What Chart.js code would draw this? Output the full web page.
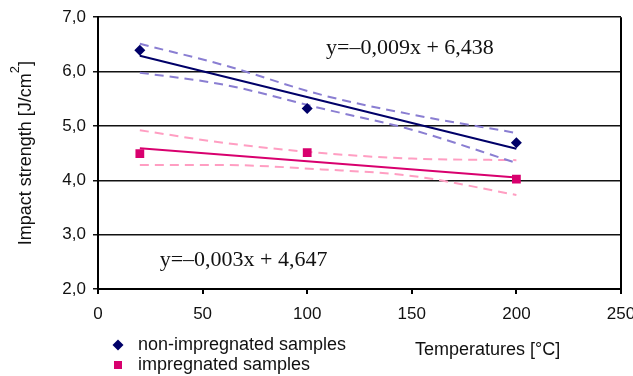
<!DOCTYPE html>
<html>
<head>
<meta charset="utf-8">
<script src="https://cdn.jsdelivr.net/npm/chart.js@4"></script>
<style>
  html, body { margin: 0; padding: 0; background: #fff; }
  #wrap { width: 633px; height: 376px; }
</style>
</head>
<body>
<div id="wrap"><canvas id="chart" width="633" height="376"></canvas></div>
<script>
// Measured points
const temps = [20, 100, 200];
const nonImpregnated = [6.39, 5.32, 4.69];
const impregnated = [4.49, 4.51, 4.02];

// Trend lines (at both ends)
const trendX = [20, 200];
const nonImpTrend = [6.29, 4.58];
const impTrend = [4.59, 4.05];

// Confidence bands (dashed), read at a few temperatures
const bandX = [20, 60, 107, 150, 200];
const nonImpUpper = [6.51, 6.12, 5.57, 5.21, 4.87];
const nonImpLower = [5.98, 5.76, 5.32, 4.93, 4.32];
const impUpper = [4.92, 4.69, 4.50, 4.40, 4.37];
const impLower = [4.28, 4.28, 4.20, 4.08, 3.73];

// Axes
const xTickValues = [0, 50, 100, 150, 200, 250];
const yTickValues = [2, 3, 4, 5, 6, 7];
const seriesNames = ['non-impregnated samples', 'impregnated samples'];
const equations = ['y=\u20130,009x + 6,438', 'y=\u20130,003x + 4,647'];

const NAVY = '#000068';
const NAVY_BAND = '#8a7ed2';
const PINK = '#d8006e';
const PINK_BAND = '#ff9ec2';
const SANS = '"Liberation Sans", Arial, sans-serif';
const SERIF = '"Liberation Serif", "Times New Roman", serif';

function pts(xs, ys) {
    return xs.map((x, i) => ({ x: x, y: ys[i] }));
}

function bandSet(ys, color) {
    return {
        data: pts(bandX, ys),
        showLine: true,
        borderColor: color,
        borderWidth: 2,
        borderDash: [9, 6],
        pointRadius: 0,
        cubicInterpolationMode: 'monotone',
        order: 3
    };
}

function trendSet(ys, color) {
    return {
        data: pts(trendX, ys),
        showLine: true,
        borderColor: color,
        borderWidth: 2,
        pointRadius: 0,
        order: 2
    };
}

function drawMarker(ctx, style, x, y, color) {
    ctx.fillStyle = color;
    ctx.beginPath();
    if (style === 'rectRot') {
        ctx.moveTo(x, y - 5.5);
        ctx.lineTo(x + 5.5, y);
        ctx.lineTo(x, y + 5.5);
        ctx.lineTo(x - 5.5, y);
    } else {
        ctx.rect(x - 4, y - 4, 8, 8);
    }
    ctx.closePath();
    ctx.fill();
}

// Frame, equations, titles and the legend drawn on top
const extrasPlugin = {
    id: 'extras',
    afterDraw(chart) {
        const { ctx, chartArea } = chart;
        const xs = chart.scales.x;
        const ys = chart.scales.y;
        ctx.save();

        // right border of the plot
        ctx.strokeStyle = '#000';
        ctx.lineWidth = 2;
        ctx.beginPath();
        ctx.moveTo(chartArea.right, chartArea.top);
        ctx.lineTo(chartArea.right, chartArea.bottom + 5);
        ctx.stroke();

        // regression equations
        ctx.fillStyle = '#111';
        ctx.font = '22px ' + SERIF;
        ctx.textAlign = 'left';
        ctx.textBaseline = 'middle';
        ctx.fillText(equations[0], xs.getPixelForValue(109), ys.getPixelForValue(6.43));
        ctx.fillText(equations[1], xs.getPixelForValue(29.5), ys.getPixelForValue(2.53));

        // y axis title with superscript
        ctx.font = '18px ' + SANS;
        const main = 'Impact strength [J/cm';
        const wMain = ctx.measureText(main).width;
        const wClose = ctx.measureText(']').width;
        ctx.font = '13px ' + SANS;
        const wSup = ctx.measureText('2').width;
        const total = wMain + wSup + wClose;
        ctx.translate(26, (chartArea.top + chartArea.bottom) / 2);
        ctx.rotate(-Math.PI / 2);
        let sx = -total / 2;
        ctx.font = '18px ' + SANS;
        ctx.fillText(main, sx, 0);
        sx += wMain;
        ctx.font = '13px ' + SANS;
        ctx.fillText('2', sx, -11);
        sx += wSup;
        ctx.font = '18px ' + SANS;
        ctx.fillText(']', sx, 0);
        ctx.setTransform(1, 0, 0, 1, 0, 0);

        // x axis title
        ctx.font = '18px ' + SANS;
        ctx.fillText('Temperatures [\u00b0C]', 415, 350);

        // legend
        const lx = 118;
        const rows = [345, 365];
        const styles = ['rectRot', 'rect'];
        const colors = [NAVY, PINK];
        seriesNames.forEach((name, i) => {
            drawMarker(ctx, styles[i], lx, rows[i], colors[i]);
            ctx.fillStyle = '#111';
            ctx.fillText(name, lx + 20, rows[i]);
        });
        ctx.restore();
    }
};

new Chart(document.getElementById('chart'), {
    type: 'scatter',
    data: {
        datasets: [
            bandSet(nonImpUpper, NAVY_BAND),
            bandSet(nonImpLower, NAVY_BAND),
            bandSet(impUpper, PINK_BAND),
            bandSet(impLower, PINK_BAND),
            trendSet(nonImpTrend, NAVY),
            trendSet(impTrend, PINK),
            {
                label: seriesNames[0],
                data: pts(temps, nonImpregnated),
                pointStyle: 'rectRot',
                pointRadius: 5.5,
                backgroundColor: NAVY,
                borderColor: NAVY,
                borderWidth: 0,
                order: 1
            },
            {
                label: seriesNames[1],
                data: pts(temps, impregnated),
                pointStyle: 'rect',
                pointRadius: 6.2,
                backgroundColor: PINK,
                borderColor: PINK,
                borderWidth: 0,
                order: 1
            }
        ]
    },
    options: {
        responsive: false,
        animation: false,
        layout: { padding: { top: 15, right: 12, left: 0, bottom: 0 } },
        plugins: {
            legend: { display: false },
            tooltip: { enabled: false }
        },
        scales: {
            x: {
                type: 'linear',
                min: 0,
                max: 250,
                afterBuildTicks: (s) => { s.ticks = xTickValues.map(v => ({ value: v })); },
                afterFit: (s) => { s.height = 87; s.paddingLeft = 0; s.paddingRight = 0; },
                grid: { display: true, drawOnChartArea: false, drawTicks: true, tickLength: 5, color: '#000', lineWidth: 2 },
                border: { display: true, color: '#000', width: 2 },
                ticks: {
                    color: '#111',
                    font: { family: SANS, size: 17 },
                    padding: 10,
                    maxRotation: 0,
                    callback: (v) => String(v)
                }
            },
            y: {
                type: 'linear',
                min: 2,
                max: 7,
                afterBuildTicks: (s) => { s.ticks = yTickValues.map(v => ({ value: v })); },
                afterFit: (s) => { s.width = 98; },
                grid: { color: '#111', lineWidth: 1.5, tickLength: 5 },
                border: { display: true, color: '#000', width: 2 },
                ticks: {
                    color: '#111',
                    font: { family: SANS, size: 17 },
                    padding: 7,
                    callback: (v) => v.toFixed(1).replace('.', ',')
                }
            }
        }
    },
    plugins: [extrasPlugin]
});
</script>
</body>
</html>
